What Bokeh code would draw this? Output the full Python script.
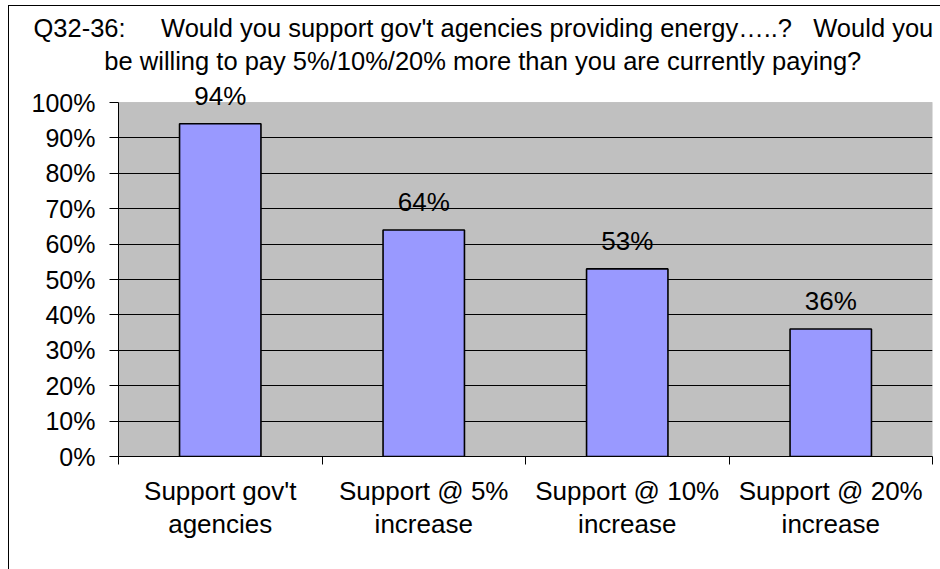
from bokeh.plotting import figure
from bokeh.models import (ColumnDataSource, FixedTicker, NumeralTickFormatter,
                          Range1d, LabelSet, BoxAnnotation, Title)
from bokeh.core.properties import value
from bokeh.embed import file_html
from bokeh.resources import INLINE

categories = ["Support gov't\nagencies", "Support @ 5%\nincrease",
              "Support @ 10%\nincrease", "Support @ 20%\nincrease"]
values = [0.94, 0.64, 0.53, 0.36]
value_labels = ["94%", "64%", "53%", "36%"]
y_ticks = [0.0, 0.1, 0.2, 0.3, 0.4, 0.5, 0.6, 0.7, 0.8, 0.9, 1.0]
NB = "\u00a0"
title_lines = ["Q32-36:" + NB * 5 + "Would you support gov't agencies providing energy\u2026..?" + NB * 3 + "Would you",
               NB * 10 + "be willing to pay 5%/10%/20% more than you are currently paying?"]

FONT = "Liberation Sans"
FS = "26px"
TICK_FS = "25px"
TITLE_FS = "25.5px"

# layout constants (pixels)
LEFT, RIGHT, TOP, BOTTOM = 118, 8, 80, 113
FRAME_W, FRAME_H = 814, 376
PX_PER_UNIT = 354.0                  # pixels per 100 %
Y_TOP = FRAME_H / PX_PER_UNIT        # frame reaches a little above 100 %
N = len(categories)

xs = [i + 0.5 for i in range(N)]
src = ColumnDataSource(dict(x=xs, top=values, label=value_labels))

p = figure(frame_width=FRAME_W, frame_height=FRAME_H, output_backend="svg",
           toolbar_location=None,
           x_range=Range1d(0, N), y_range=Range1d(0, Y_TOP),
           min_border_left=LEFT, min_border_right=RIGHT, min_border_top=TOP,
           min_border_bottom=BOTTOM)
p.background_fill_color = None
p.border_fill_color = None
p.outline_line_color = None
p.styles = {"background": "linear-gradient(#000,#000) 8px 5px / 1px 100% no-repeat, "
                          "linear-gradient(#000,#000) 8px 5px / 100% 1px no-repeat"}

# title (two lines)
p.add_layout(Title(text="\n".join(title_lines), align="left", offset=33 - LEFT,
                   vertical_align="top", standoff=6,
                   text_font=FONT, text_font_size=TITLE_FS, text_font_style="normal",
                   text_color="#000000", text_line_height=1.2), "above")

# plot area (0..100 %) with grey fill and grey border
p.add_layout(BoxAnnotation(left=0, right=N, bottom=0, top=1, level="image",
                           fill_color="#C0C0C0", fill_alpha=1.0,
                           line_color="#808080", line_width=1))

p.vbar(x="x", top="top", width=0.4, bottom=0, source=src,
       fill_color="#9999FF", line_color="#000000", line_width=1.6)
p.add_layout(LabelSet(x="x", y="top", text="label", source=src,
                      text_font=value(FONT), text_font_size=value(FS),
                      text_align="center", text_baseline="alphabetic",
                      y_offset=19, text_color="#000000"))

# y axis
ya = p.yaxis[0]
ya.bounds = (0, 1)
ya.ticker = FixedTicker(ticks=y_ticks)
ya.formatter = NumeralTickFormatter(format="0%")
ya.major_label_text_font = FONT
ya.major_label_text_font_size = TICK_FS
ya.major_label_text_color = "#000000"
ya.major_tick_out = 9
ya.major_tick_in = 0
ya.minor_tick_out = 0
ya.minor_tick_in = 0
ya.major_label_standoff = 14
ya.axis_line_color = "#000000"
ya.major_tick_line_color = "#000000"

# x axis
xa = p.xaxis[0]
xa.ticker = FixedTicker(ticks=xs, minor_ticks=list(range(N + 1)))
xa.major_label_overrides = {x: c for x, c in zip(xs, categories)}
xa.major_label_text_font = FONT
xa.major_label_text_font_size = FS
xa.major_label_text_color = "#000000"
xa.major_label_text_line_height = 1.1
xa.major_tick_out = 0
xa.major_tick_in = 0
xa.minor_tick_out = 8
xa.minor_tick_in = 0
xa.minor_tick_line_color = "#000000"
xa.major_label_standoff = 11
xa.axis_line_color = "#000000"

p.xgrid.visible = False
p.ygrid.ticker = FixedTicker(ticks=y_ticks[1:-1])
p.ygrid.grid_line_color = "#000000"
p.ygrid.grid_line_width = 1

open("out.html", "w").write(file_html(p, INLINE))
